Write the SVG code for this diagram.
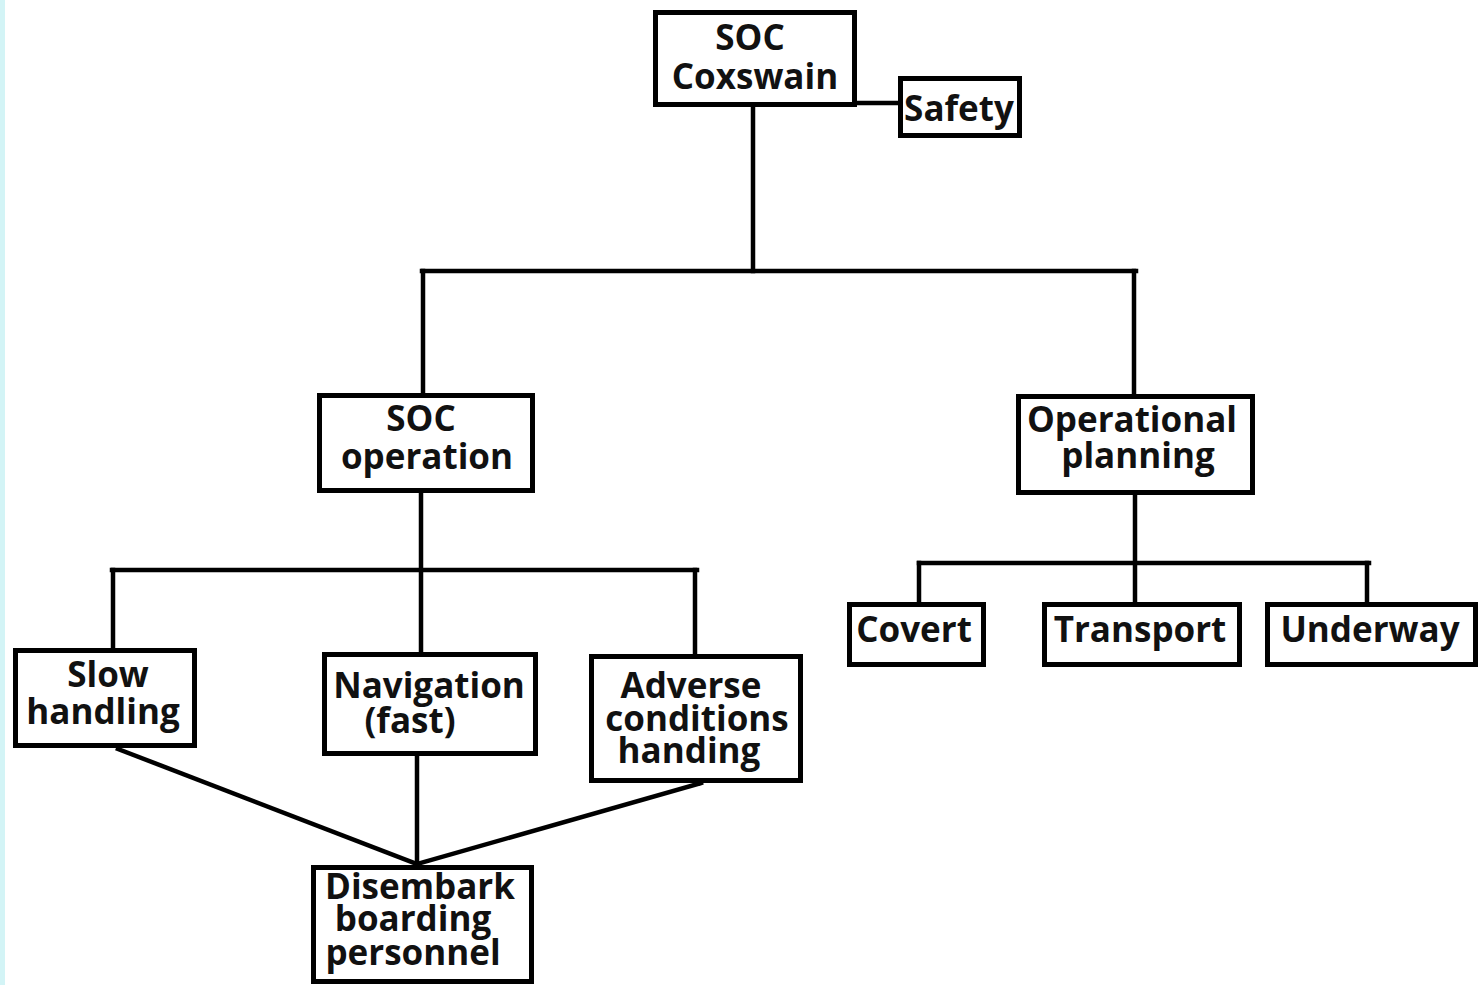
<svg xmlns="http://www.w3.org/2000/svg" width="1478" height="985" viewBox="0 0 1478 985">
<style>
.box{fill:#fff;stroke:#000;stroke-width:5}
.ln{stroke:#000;stroke-width:4.5;fill:none;stroke-linecap:square}
text{font-family:"Open Sans","Noto Sans","DejaVu Sans",sans-serif;font-weight:bold;font-size:35px;fill:#111;text-anchor:middle}
</style>
<rect x="0" y="0" width="1478" height="985" fill="#fff"/>
<rect x="0" y="0" width="5" height="985" fill="#d3f4f6"/>
<g id="connectors">
<line class="ln" x1="857" y1="103" x2="898" y2="103"/>
<line class="ln" x1="753" y1="107" x2="753" y2="271"/>
<line class="ln" x1="422" y1="271" x2="1136" y2="271"/>
<line class="ln" x1="423" y1="271" x2="423" y2="393"/>
<line class="ln" x1="1134" y1="271" x2="1134" y2="394"/>
<line class="ln" x1="421" y1="493" x2="421" y2="652"/>
<line class="ln" x1="112" y1="570" x2="697" y2="570"/>
<line class="ln" x1="113" y1="570" x2="113" y2="648"/>
<line class="ln" x1="695" y1="570" x2="695" y2="654"/>
<line class="ln" x1="1135" y1="494" x2="1135" y2="602"/>
<line class="ln" x1="919" y1="563" x2="1369" y2="563"/>
<line class="ln" x1="919" y1="563" x2="919" y2="602"/>
<line class="ln" x1="1367" y1="563" x2="1367" y2="602"/>
<line class="ln" x1="118" y1="749" x2="417" y2="864"/>
<line class="ln" x1="417" y1="756" x2="417" y2="864"/>
<line class="ln" x1="701" y1="783" x2="417" y2="864"/>
</g>
<g id="n-coxswain"><rect class="box" x="655.5" y="12.5" width="199" height="92"/><text x="750" y="50">SOC</text><text x="755" y="89">Coxswain</text></g>
<g id="n-safety"><rect class="box" x="900.5" y="78.5" width="119" height="57"/><text x="959" y="121">Safety</text></g>
<g id="n-socop"><rect class="box" x="319.5" y="395.5" width="213" height="95"/><text x="421" y="431">SOC</text><text x="427" y="469">operation</text></g>
<g id="n-opplan"><rect class="box" x="1018.5" y="396.5" width="234" height="96"/><text x="1132" y="432">Operational</text><text x="1138" y="468">planning</text></g>
<g id="n-slow"><rect class="box" x="15.5" y="650.5" width="179" height="95"/><text x="108" y="687">Slow</text><text x="103" y="724">handling</text></g>
<g id="n-nav"><rect class="box" x="324.5" y="654.5" width="211" height="99"/><text x="429" y="698">Navigation</text><text x="410" y="733">(fast)</text></g>
<g id="n-adverse"><rect class="box" x="591.5" y="656.5" width="209" height="124"/><text x="691" y="698">Adverse</text><text x="697" y="731">conditions</text><text x="689" y="763">handing</text></g>
<g id="n-disembark"><rect class="box" x="313.5" y="867.5" width="218" height="114"/><text x="420" y="899">Disembark</text><text x="413" y="931">boarding</text><text x="413" y="965">personnel</text></g>
<g id="n-covert"><rect class="box" x="849.5" y="604.5" width="134" height="60"/><text x="914" y="642">Covert</text></g>
<g id="n-transport"><rect class="box" x="1044.5" y="604.5" width="195" height="60"/><text x="1140" y="642">Transport</text></g>
<g id="n-underway"><rect class="box" x="1267.5" y="604.5" width="208" height="60"/><text x="1370" y="642">Underway</text></g>
</svg>
